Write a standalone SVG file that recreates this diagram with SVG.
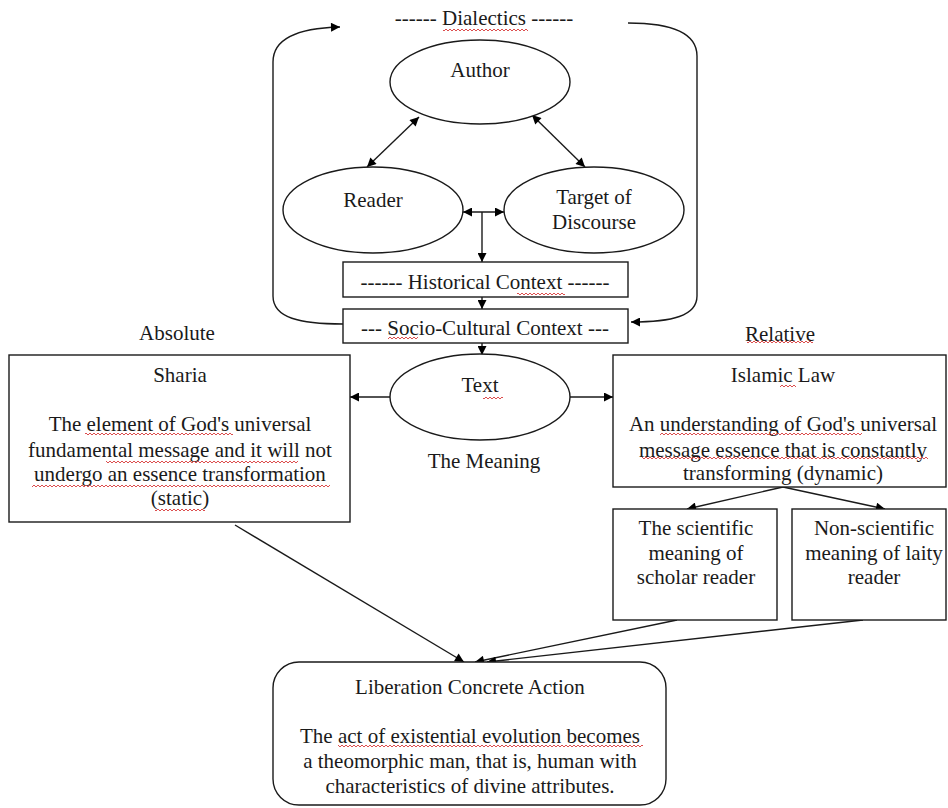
<svg xmlns="http://www.w3.org/2000/svg" width="948" height="808" viewBox="0 0 948 808">
<defs>
<marker id="ah" viewBox="0 0 10 10" refX="10" refY="5" markerWidth="11" markerHeight="9" markerUnits="userSpaceOnUse" orient="auto-start-reverse"><path d="M0,0 L10,5 L0,10 Z" fill="#000"/></marker>
<clipPath id="clipIL"><rect x="613" y="355" width="333" height="132"/></clipPath>
<pattern id="wavy" width="4" height="4" patternUnits="userSpaceOnUse"><path d="M0,3 L2,1 L4,3" fill="none" stroke="#d83a3a" stroke-width="0.9"/></pattern>
</defs>
<style>
text{font-size:21px;fill:#1a1a1a;text-anchor:middle}
.shape{fill:#fff;stroke:#1a1a1a;stroke-width:1.4}
.c{fill:none;stroke:#1a1a1a;stroke-width:1.4}
.w{fill:url(#wavy)}
</style>
<rect width="948" height="808" fill="#fff"/>
<g id="connectors">
<path class="c" d="M343,324 C300,324 273,318 273,296 L273,62 C273,38 300,28 340,27" marker-end="url(#ah)"/>
<path class="c" d="M628,23 C670,23 697,32 697,56 L697,296 C697,316 672,322 631,322" marker-end="url(#ah)"/>
<line class="c" x1="419" y1="117" x2="367" y2="167" marker-start="url(#ah)" marker-end="url(#ah)"/>
<line class="c" x1="532" y1="115" x2="585" y2="167" marker-start="url(#ah)" marker-end="url(#ah)"/>
<line class="c" x1="463" y1="212" x2="504" y2="212" marker-start="url(#ah)" marker-end="url(#ah)"/>
<line class="c" x1="482" y1="212" x2="482" y2="262" marker-end="url(#ah)"/>
<line class="c" x1="482" y1="297" x2="482" y2="309" marker-end="url(#ah)"/>
<line class="c" x1="482" y1="343" x2="482" y2="355" marker-end="url(#ah)"/>
<line class="c" x1="390" y1="397" x2="350" y2="397" marker-end="url(#ah)"/>
<line class="c" x1="570" y1="397" x2="613" y2="397" marker-end="url(#ah)"/>
<line class="c" x1="783" y1="487" x2="687" y2="509" marker-end="url(#ah)"/>
<line class="c" x1="783" y1="487" x2="885" y2="509" marker-end="url(#ah)"/>
<line class="c" x1="235" y1="525" x2="464" y2="662" marker-end="url(#ah)"/>
<line class="c" x1="677" y1="620" x2="475" y2="662" marker-end="url(#ah)"/>
<line class="c" x1="863" y1="620" x2="487" y2="662" marker-end="url(#ah)"/>
</g>
<g font-family="'Liberation Serif', 'DejaVu Serif', serif">
<g id="dialectics"><text x="484" y="25">------ Dialectics ------</text></g>
<g id="author"><ellipse class="shape" cx="480" cy="82" rx="90" ry="42"/><text x="480" y="77">Author</text></g>
<g id="reader"><ellipse class="shape" cx="373" cy="210" rx="90" ry="43"/><text x="373" y="207">Reader</text></g>
<g id="target"><ellipse class="shape" cx="594" cy="210" rx="90" ry="43"/><text x="594" y="204">Target of</text><text x="594" y="229">Discourse</text></g>
<g id="historical"><rect class="shape" x="343" y="262" width="285" height="35"/><text x="485" y="289">------ Historical Context ------</text></g>
<g id="socio"><rect class="shape" x="343" y="309" width="285" height="34"/><text x="485" y="335">--- Socio-Cultural Context ---</text></g>
<g id="text-node"><ellipse class="shape" cx="480" cy="397" rx="90" ry="43"/><text x="480" y="392">Text</text><text x="484" y="468">The Meaning</text></g>
<g id="absolute"><text x="177" y="340">Absolute</text></g>
<g id="relative"><text x="780" y="341">Relative</text></g>
<g id="sharia"><rect class="shape" x="9" y="355" width="341" height="167"/>
<text x="180" y="382">Sharia</text>
<text x="180" y="431">The element of God's universal</text>
<text x="180" y="457">fundamental message and it will not</text>
<text x="180" y="481">undergo an essence transformation</text>
<text x="180" y="505">(static)</text></g>
<g id="islamic-law"><rect class="shape" x="613" y="355" width="333" height="132"/>
<g clip-path="url(#clipIL)">
<text x="783" y="382">Islamic Law</text>
<text x="783" y="431">An understanding of God's universal</text>
<text x="783" y="457">message essence that is constantly</text>
<text x="783" y="480">transforming (dynamic)</text></g></g>
<g id="scientific"><rect class="shape" x="613" y="509" width="164" height="111"/>
<text x="696" y="535">The scientific</text><text x="696" y="560">meaning of</text><text x="696" y="584">scholar reader</text></g>
<g id="non-scientific"><rect class="shape" x="792" y="509" width="154" height="111"/>
<text x="874" y="535">Non-scientific</text><text x="874" y="560">meaning of laity</text><text x="874" y="584">reader</text></g>
<g id="liberation"><rect class="shape" x="273" y="662" width="393" height="143" rx="26" ry="26"/>
<text x="470" y="694">Liberation Concrete Action</text>
<text x="470" y="743">The act of existential evolution becomes</text>
<text x="470" y="768">a theomorphic man, that is, human with</text>
<text x="470" y="793">characteristics of divine attributes.</text></g>
</g>
<g id="spellcheck-marks">
<rect class="w" x="443" y="28" width="85" height="4"/>
<rect class="w" x="517" y="292" width="48" height="4"/>
<rect class="w" x="388" y="336" width="30" height="4"/>
<rect class="w" x="483" y="396" width="20" height="4"/>
<rect class="w" x="747" y="340" width="66" height="4"/>
<rect class="w" x="780" y="384" width="16" height="4"/>
<rect class="w" x="85" y="432" width="148" height="4"/>
<rect class="w" x="106" y="460" width="192" height="4"/>
<rect class="w" x="32" y="484" width="298" height="4"/>
<rect class="w" x="155" y="508" width="50" height="4"/>
<rect class="w" x="660" y="432" width="202" height="4"/>
<rect class="w" x="642" y="456" width="286" height="4"/>
<rect class="w" x="338" y="744" width="305" height="4"/>
</g>
</svg>
